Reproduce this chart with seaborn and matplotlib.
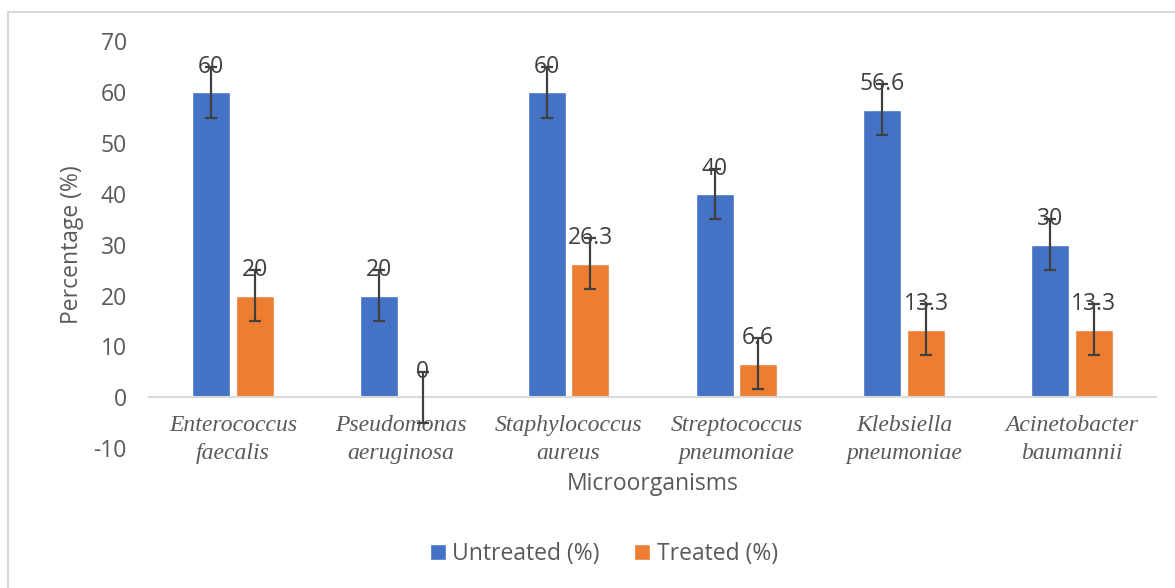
import matplotlib
matplotlib.use("Agg")
import matplotlib.pyplot as plt
import seaborn as sns
import pandas as pd
import numpy as np
from matplotlib.patches import Rectangle

categories = ["Enterococcus\nfaecalis", "Pseudomonas\naeruginosa", "Staphylococcus\naureus",
              "Streptococcus\npneumoniae", "Klebsiella\npneumoniae", "Acinetobacter\nbaumannii"]
untreated = [60, 20, 60, 40, 56.6, 30]
treated = [20, 0, 26.3, 6.6, 13.3, 13.3]
untreated_err = [5, 5, 5, 5, 5, 5]
treated_err = [5, 5, 5, 5, 5, 5]
untreated_lbl = ["60", "20", "60", "40", "56.6", "30"]
treated_lbl = ["20", "0", "26.3", "6.6", "13.3", "13.3"]
series = ["Untreated (%)", "Treated (%)"]
yticks = [-10, 0, 10, 20, 30, 40, 50, 60, 70]

df = pd.DataFrame({
    "Microorganism": categories * 2,
    "Series": [series[0]] * len(categories) + [series[1]] * len(categories),
    "Value": untreated + treated,
})

sns.set_theme(style="white")
plt.rcParams["font.family"] = ["Open Sans", "DejaVu Sans"]

W, H = 1175, 588
fig = plt.figure(figsize=(W / 100, H / 100), dpi=100)
ax = fig.add_axes([149 / W, 1 - 448 / H, (1156 - 149) / W, (448 - 41.5) / H])

palette = {series[0]: "#4472C4", series[1]: "#ED7D31"}
sns.barplot(data=df, x="Microorganism", y="Value", hue="Series", palette=palette,
            width=0.52, gap=0.13, ax=ax, errorbar=None, legend=True, saturation=1)

ax.set_ylim(-10, 70)
ax.set_yticks(yticks)
ax.set_yticklabels([str(t) for t in yticks])
ax.set_xlim(-0.5, len(categories) - 0.5)

for sp in ["top", "right", "left"]:
    ax.spines[sp].set_visible(False)
ax.spines["bottom"].set_position(("data", 0))
ax.spines["bottom"].set_color("#D9D9D9")
ax.spines["bottom"].set_linewidth(1.5)

ax.tick_params(axis="y", length=0, pad=16, labelsize=16.5, labelcolor="#595959")
ax.tick_params(axis="x", length=0, pad=13, labelcolor="#595959")
for lbl in ax.get_xticklabels():
    lbl.set_fontfamily("Liberation Serif")
    lbl.set_fontstyle("italic")
    lbl.set_fontsize(17)
    lbl.set_linespacing(1.42)

ax.set_xlabel("Microorganisms", fontsize=16.5, color="#595959", labelpad=6)
ax.set_ylabel("Percentage (%)", fontsize=16.5, color="#595959", labelpad=7)

errs = [untreated_err, treated_err]
lbls = [untreated_lbl, treated_lbl]
vals = [untreated, treated]
for ci, cont in enumerate(ax.containers[:2]):
    for bi, bar in enumerate(cont):
        xc = bar.get_x() + bar.get_width() / 2
        v = vals[ci][bi]
        e = errs[ci][bi]
        ax.errorbar(xc, v, yerr=e, fmt="none", ecolor="#404040", elinewidth=1.6,
                    capsize=4.3, capthick=1.6, zorder=5)
        ax.text(xc, v + e, lbls[ci][bi], ha="center", va="center", fontsize=16.5,
                color="#404040", zorder=6)

leg = ax.legend(loc="center", bbox_to_anchor=(604 / W, 1 - 554 / H),
                bbox_transform=fig.transFigure, ncol=2, frameon=False,
                fontsize=16.5, handlelength=0.7, handleheight=0.7,
                handletextpad=0.3, columnspacing=1.5)
for t in leg.get_texts():
    t.set_color("#595959")

fig.patches.append(Rectangle((8 / W, -0.1), 1.2, 0.1 + (1 - 12 / H), transform=fig.transFigure,
                             fill=False, edgecolor="#D9D9D9", linewidth=1.5))

fig.savefig("out.png", dpi=100, facecolor="white")
